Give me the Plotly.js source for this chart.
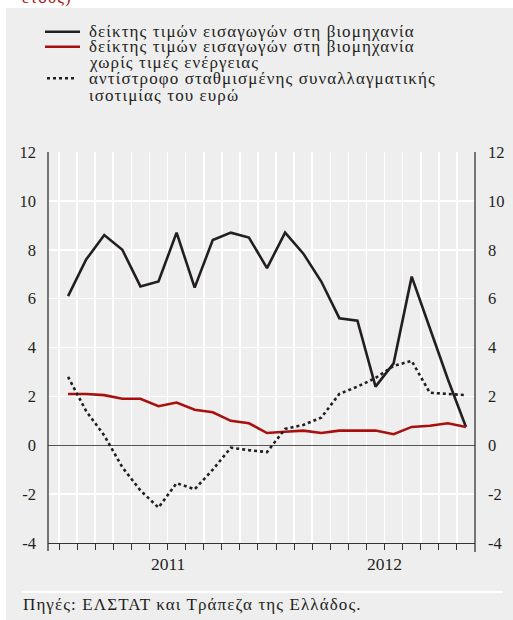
<!DOCTYPE html>
<html>
<head>
<meta charset="utf-8">
<script src="https://cdn.plot.ly/plotly-3.0.1.min.js"></script>
<style>html,body{margin:0;padding:0;background:#fff;}#chart{width:513px;height:620px;}</style>
</head>
<body>
<div id="chart"></div>
<script>
// ---- data (monthly, Jan 2011 – Nov 2012) ----
var monthIndex = [0,1,2,3,4,5,6,7,8,9,10,11,12,13,14,15,16,17,18,19,20,21,22];
var importPrices = [6.1,7.6,8.6,8.0,6.5,6.7,8.7,6.45,8.4,8.7,8.5,7.25,8.7,7.85,6.7,5.2,5.1,2.4,3.35,6.9,4.8,2.7,0.75];
var importPricesExEnergy = [2.1,2.1,2.05,1.9,1.9,1.6,1.75,1.45,1.35,1.0,0.9,0.5,0.55,0.6,0.5,0.6,0.6,0.6,0.45,0.75,0.8,0.9,0.75];
var inverseNEER = [2.8,1.4,0.4,-0.9,-1.85,-2.55,-1.55,-1.8,-1.0,-0.1,-0.2,-0.28,0.67,0.83,1.13,2.1,2.4,2.75,3.25,3.45,2.15,2.1,2.05];
var yTickVals = [-4,-2,0,2,4,6,8,10,12];
var yTickText = ["-4","-2","0","2","4","6","8","10","12"];
var monthBoundaries = [-0.5,0.5,1.5,2.5,3.5,4.5,5.5,6.5,7.5,8.5,9.5,10.5,11.5,12.5,13.5,14.5,15.5,16.5,17.5,18.5,19.5,20.5,21.5];
var yearLabels = ["2011","2012"];
var yearCenters = [5.5,17.5];
var legendNames = [
  "δείκτης τιμών εισαγωγών στη βιομηχανία",
  "δείκτης τιμών εισαγωγών στη βιομηχανία<br>χωρίς τιμές ενέργειας",
  "αντίστροφο σταθμισμένης συναλλαγματικής<br>ισοτιμίας του ευρώ"
];
var legendLines = [
  ["δείκτης τιμών εισαγωγών στη βιομηχανία"],
  ["δείκτης τιμών εισαγωγών στη βιομηχανία","χωρίς τιμές ενέργειας"],
  ["αντίστροφο σταθμισμένης συναλλαγματικής","ισοτιμίας του ευρώ"]
];
var sourceText = "Πηγές: ΕΛΣΤΑΤ και Τράπεζα της Ελλάδος.";
var cutTitle = "έτους)";

// ---- layout geometry helpers (pixels -> paper) ----
var W = 513, H = 620, L = 48, R = 475, T = 152, B = 543;
function px(x){ return (x - L) / (R - L); }
function py(y){ return (B - y) / (B - T); }
function spaced(t){ return '<span style="letter-spacing:1.1px">' + t + '</span>'; }

var FONT = "'Liberation Serif', 'DejaVu Serif', serif";
var INK = "#231f20";
var RED = "#a8100f";
var BG = "#eeeeee";

var traces = [
  {x: monthIndex, y: importPrices, name: legendNames[0], mode: "lines",
   line: {color: INK, width: 2.6}, hoverinfo: "skip"},
  {x: monthIndex, y: importPricesExEnergy, name: legendNames[1], mode: "lines",
   line: {color: RED, width: 2.6}, hoverinfo: "skip"},
  {x: monthIndex, y: inverseNEER, name: legendNames[2], mode: "lines",
   line: {color: INK, width: 2.6, dash: "dot"}, hoverinfo: "skip"},
  {x: monthIndex, y: importPrices, yaxis: "y2", mode: "lines", showlegend: false,
   line: {color: "rgba(0,0,0,0)", width: 0}, hoverinfo: "skip"}
];

var shapes = [
  {type: "rect", xref: "paper", yref: "paper", x0: px(6), x1: px(520), y0: py(8), y1: py(630),
   fillcolor: BG, line: {width: 0}, layer: "below"},
  {type: "line", xref: "paper", yref: "paper", x0: 0, x1: 0, y0: 1, y1: py(551),
   line: {color: "#333", width: 1.3}},
  {type: "line", xref: "paper", yref: "paper", x0: 1, x1: 1, y0: 1, y1: py(552),
   line: {color: "#333", width: 1.3}},
  {type: "line", xref: "paper", yref: "paper", x0: px(22), x1: px(503), y0: py(592), y1: py(592),
   line: {color: "#ffffff", width: 2}},
  {type: "line", xref: "paper", yref: "paper", x0: px(45), x1: px(80), y0: py(31.7), y1: py(31.7),
   line: {color: INK, width: 2.6}},
  {type: "line", xref: "paper", yref: "paper", x0: px(45), x1: px(80), y0: py(46.7), y1: py(46.7),
   line: {color: RED, width: 2.6}},
  {type: "line", xref: "paper", yref: "paper", x0: px(47), x1: px(77), y0: py(78.3), y1: py(78.3),
   line: {color: INK, width: 2.6, dash: "dot"}}
];

var annotations = [];
var lineY = [[31.7],[46.7,63],[78.3,95]];
for (var i = 0; i < legendLines.length; i++) {
  for (var j = 0; j < legendLines[i].length; j++) {
    annotations.push({xref: "paper", yref: "paper", x: px(87), y: py(lineY[i][j]),
      xanchor: "left", yanchor: "middle", showarrow: false, text: spaced(legendLines[i][j]),
      font: {family: FONT, size: 17, color: INK}});
  }
}
for (var k = 0; k < yearLabels.length; k++) {
  annotations.push({xref: "x", yref: "paper", x: yearCenters[k], y: py(563.5),
    xanchor: "center", yanchor: "middle", showarrow: false, text: yearLabels[k],
    font: {family: FONT, size: 17.5, color: INK}});
}
annotations.push({xref: "paper", yref: "paper", x: px(21), y: py(604),
  xanchor: "left", yanchor: "middle", showarrow: false, text: spaced(sourceText),
  font: {family: FONT, size: 17, color: INK}});
annotations.push({xref: "paper", yref: "paper", x: px(20), y: py(9.5),
  xanchor: "left", yanchor: "bottom", showarrow: false, text: spaced(cutTitle),
  font: {family: FONT, size: 17, color: RED}});

var layout = {
  width: W, height: H,
  margin: {l: L, r: W - R, t: T, b: H - B, pad: 0},
  paper_bgcolor: "#ffffff",
  plot_bgcolor: "rgba(0,0,0,0)",
  showlegend: false,
  font: {family: FONT, size: 17, color: INK},
  xaxis: {
    range: [-1.11, 22.5], tickmode: "array", tickvals: monthBoundaries,
    showticklabels: false, ticks: "outside", ticklen: 6, tickcolor: "#333", tickwidth: 1,
    showgrid: true, gridcolor: "#ffffff", gridwidth: 1.6,
    showline: true, linecolor: "#333", linewidth: 1.2, zeroline: false, fixedrange: true
  },
  yaxis: {
    range: [-4, 12], tickmode: "array", tickvals: yTickVals, ticktext: yTickText,
    ticks: "", ticklabelstandoff: 11, showgrid: true, gridcolor: "#ffffff", gridwidth: 1.6,
    zeroline: true, zerolinecolor: "#555", zerolinewidth: 1.3, showline: false,
    tickfont: {family: FONT, size: 16.5, color: INK}, fixedrange: true
  },
  yaxis2: {
    range: [-4, 12], overlaying: "y", side: "right", tickmode: "array",
    tickvals: yTickVals, ticktext: yTickText, ticks: "", ticklabelstandoff: 12,
    showgrid: false, zeroline: false, showline: false,
    tickfont: {family: FONT, size: 16.5, color: INK}, fixedrange: true
  },
  shapes: shapes,
  annotations: annotations
};

Plotly.newPlot("chart", traces, layout, {staticPlot: true, displayModeBar: false});
</script>
</body>
</html>
